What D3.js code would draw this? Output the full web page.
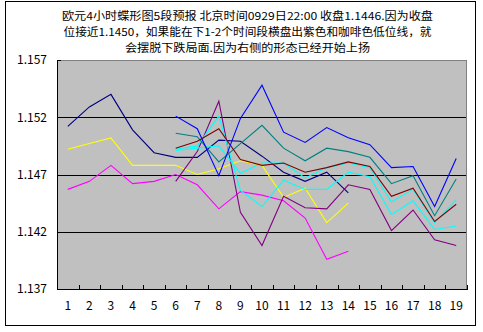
<!DOCTYPE html>
<html><head><meta charset="utf-8">
<script src="https://cdn.jsdelivr.net/npm/d3@7"></script>
<style>
html,body{margin:0;padding:0;background:#fff;}
svg{display:block;}
text{font-family:"Noto Sans CJK SC","Noto Sans",sans-serif;}
</style></head>
<body>
<svg id="chart" width="483" height="332"></svg>
<script>
const titleLines = [
  "欧元4小时蝶形图5段预报 北京时间0929日22:00 收盘1.1446.因为收盘",
  "位接近1.1450，如果能在下1-2个时间段横盘出紫色和咖啡色低位线，就",
  "会摆脱下跌局面.因为右侧的形态已经开始上扬"
];
const categories = d3.range(1, 20).map(String);
const yTicks = [1.137, 1.142, 1.147, 1.152, 1.157];
const gridTicks = [1.142, 1.147, 1.152];

const navySeries    = [1.1512,1.1529,1.1540,1.1509,1.1489,1.1485,1.1485,1.1500,1.1499,1.1486,1.1472,1.1464,1.1472,1.1454,null,null,null,null,null];
const yellowSeries  = [1.1492,1.1497,1.1502,1.1478,1.1478,1.1478,1.1470,1.1475,1.1482,1.1478,1.1450,1.1458,1.1428,1.1445,null,null,null,null,null];
const magentaSeries = [1.1457,1.1464,1.1478,1.1462,1.1464,1.1470,1.1461,1.1440,1.1455,1.1452,1.1447,1.1432,1.1396,1.1403,null,null,null,null,null];
const blueSeries    = [null,null,null,null,null,1.1521,1.1510,1.1469,1.1519,1.1548,1.1507,1.1498,1.1511,1.1502,1.1496,1.1476,1.1477,1.1442,1.1484];
const tealSeries    = [null,null,null,null,null,1.1506,1.1503,1.1481,1.1497,1.1513,1.1493,1.1482,1.1493,1.1490,1.1485,1.1462,1.1469,1.1434,1.1466];
const maroonSeries  = [null,null,null,null,null,1.1493,1.1499,1.1510,1.1483,1.1478,1.1480,1.1472,1.1476,1.1481,1.1477,1.1451,1.1458,1.1429,1.1444];
const cyanSeries1   = [null,null,null,null,null,1.1491,1.1493,1.1495,1.1471,1.1480,1.1480,1.1467,1.1476,1.1480,1.1476,1.1446,1.1457,1.1428,1.1448];
const cyanSeries2   = [null,null,null,null,null,1.1492,1.1495,1.1521,1.1456,1.1442,1.1465,1.1457,1.1457,1.1472,1.1468,1.1435,1.1447,1.1422,1.1425];
const purpleSeries  = [null,null,null,null,null,1.1464,1.1490,1.1534,1.1437,1.1408,1.1451,1.1441,1.1440,1.1461,1.1457,1.1421,1.1439,1.1413,1.1408];

const series = [
  {values: navySeries, color: "#000080"},
  {values: yellowSeries, color: "#FFFF00"},
  {values: magentaSeries, color: "#FF00FF"},
  {values: purpleSeries, color: "#800080"},
  {values: cyanSeries2, color: "#00FFFF"},
  {values: cyanSeries1, color: "#00FFFF"},
  {values: tealSeries, color: "#008080"},
  {values: maroonSeries, color: "#800000"},
  {values: blueSeries, color: "#0000FF"}
];

const svg = d3.select("#chart");
const L = 57, R = 467, T = 60, B = 289;

// outer frame
svg.append("rect").attr("x",5.5).attr("y",1.5).attr("width",470).attr("height",324)
  .attr("fill","#fff").attr("stroke","#000").attr("stroke-width",1);

// title
const titleY = [14.5, 30.5, 46.5];
const titleW = [371, 368, 245];
svg.append("g").selectAll("text").data(titleLines).join("text")
  .attr("x", 247.5).attr("y", (d,i) => titleY[i])
  .attr("text-anchor","middle").attr("dominant-baseline","central")
  .attr("font-size", 11).attr("fill","#000")
  .attr("textLength", (d,i) => titleW[i]).attr("lengthAdjust","spacingAndGlyphs")
  .text(d => d);

const x = d3.scaleBand().domain(categories).range([L, R]);
const xEdge = d3.scaleLinear().domain([0, categories.length]).range([L, R]);
const y = d3.scaleLinear().domain([1.137, 1.157]).range([B, T]);

// plot area
svg.append("rect").attr("x",L).attr("y",T).attr("width",R-L).attr("height",B-T)
  .attr("fill","#C0C0C0");
svg.append("path").attr("d",`M${L},${T+0.5}H${R-0.5}V${B}`)
  .attr("fill","none").attr("stroke","#808080").attr("stroke-width",1)
  .attr("shape-rendering","crispEdges");

// gridlines
svg.append("g").selectAll("line").data(gridTicks).join("line")
  .attr("x1",L).attr("x2",R-1)
  .attr("y1",d=>Math.round(y(d))+0.5).attr("y2",d=>Math.round(y(d))+0.5)
  .attr("stroke","#000").attr("stroke-width",1).attr("shape-rendering","crispEdges");

// lines
const line = d3.line()
  .defined(d => d != null)
  .x((d,i) => x(categories[i]) + x.bandwidth()/2)
  .y(d => y(d));
svg.append("g").selectAll("path").data(series).join("path")
  .attr("d", d => line(d.values))
  .attr("fill","none").attr("stroke", d => d.color)
  .attr("stroke-width", 1.1);

// y axis
const yAxis = svg.append("g").attr("transform",`translate(${L},0)`)
  .call(d3.axisLeft(y).tickValues(yTicks).tickSize(-4).tickSizeOuter(0)
    .tickPadding(10).tickFormat(d3.format(".3f")));
yAxis.select(".domain").attr("stroke","#000").attr("shape-rendering","crispEdges");
yAxis.selectAll(".tick line").attr("stroke","#000").attr("shape-rendering","crispEdges");
yAxis.selectAll("text").attr("font-size",12).attr("fill","#000")
  .style("font-family",'"Noto Sans CJK SC","Noto Sans",sans-serif');

// x axis edge ticks
const xTicksG = svg.append("g").attr("transform",`translate(0,${B})`)
  .call(d3.axisBottom(xEdge).tickValues(d3.range(0, categories.length+1))
    .tickSize(-4).tickSizeOuter(0).tickFormat(""));
xTicksG.select(".domain").attr("stroke","#000").attr("shape-rendering","crispEdges");
xTicksG.selectAll(".tick line").attr("stroke","#000").attr("shape-rendering","crispEdges");

// x labels
const xAxis = svg.append("g").attr("transform",`translate(0,${B})`)
  .call(d3.axisBottom(x).tickSize(0).tickPadding(12));
xAxis.select(".domain").remove();
xAxis.selectAll("text").attr("font-size",12).attr("fill","#000")
  .style("font-family",'"Noto Sans CJK SC","Noto Sans",sans-serif');
</script>
</body></html>
